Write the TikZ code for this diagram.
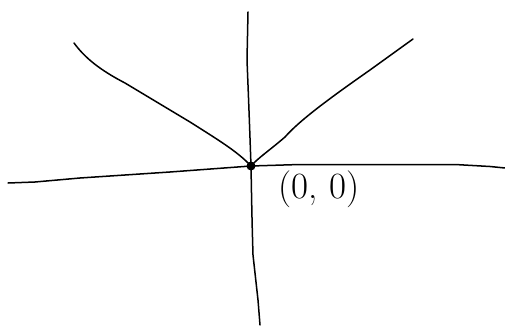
\documentclass[tikz,border=0pt]{standalone}
\begin{document}
\begin{tikzpicture}[x=1pt,y=-1pt,
  stroke/.style={line width=1.5pt,line cap=round,line join=round},
  lbl/.style={inner sep=0pt,font=\fontsize{37}{40}\selectfont}]
\useasboundingbox (0,0) rectangle (505,326);
\coordinate (O) at (251,166);
% horizontal axis
\draw[stroke] (8,183) -- (35,182) -- (80,178) -- (170,172) -- (O) -- (300,164.5) -- (455,164.5) -- (490,166.5) -- (505,168);
% vertical axis
\draw[stroke] (248,12) -- (247,60) .. controls (249,110) .. (O) .. controls (252,220) .. (253,255) -- (258,300) -- (260,325);
% left curve
\draw[stroke] (74,43) .. controls (85,58) and (100,70) .. (125,83) -- (190,122) .. controls (220,141) and (238,152) .. (O);
% right curve
\draw[stroke] (413,39) -- (370,70) .. controls (330,98) and (300,120) .. (285,137) .. controls (270,150) and (258,158) .. (O);
\fill (O) circle (4.5);
\node[lbl] (label) at (319,189) {(0, 0)};
\end{tikzpicture}
\end{document}
